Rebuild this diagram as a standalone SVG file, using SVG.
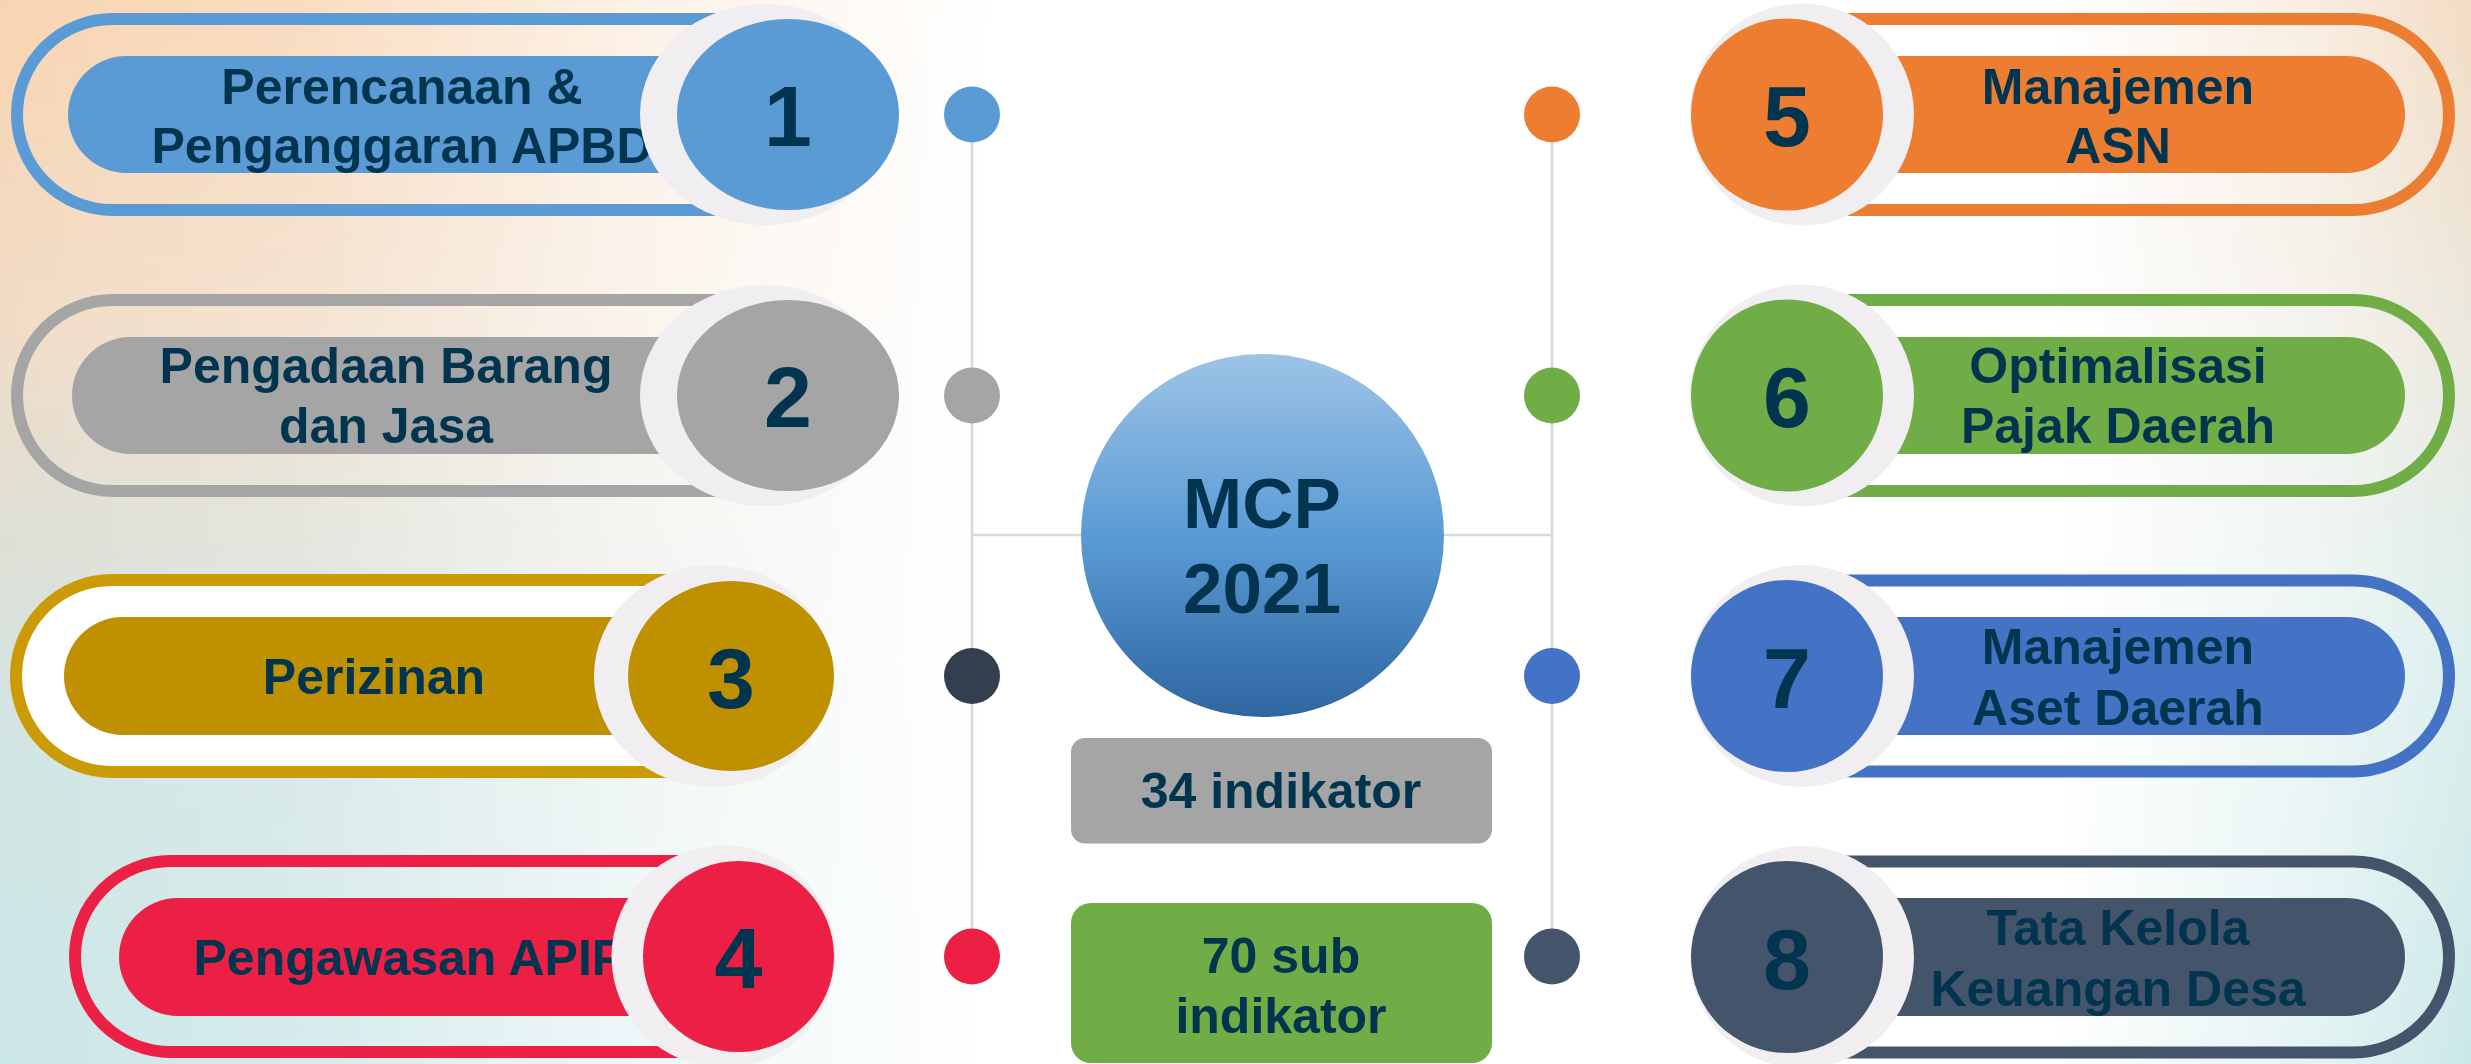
<svg xmlns="http://www.w3.org/2000/svg" width="2471" height="1064" viewBox="0 0 2471 1064">
  <defs>
    <style>
      .lbl { font-family: "Liberation Sans", Arial, sans-serif; font-weight: bold; font-size: 50px; fill: #00344F; text-anchor: middle; }
      .num { font-family: "Liberation Sans", Arial, sans-serif; font-weight: bold; font-size: 86px; fill: #00344F; text-anchor: middle; }
      .hub { font-family: "Liberation Sans", Arial, sans-serif; font-weight: bold; font-size: 71px; fill: #00344F; text-anchor: middle; }
      .ring { fill: #F0EEF0; }
      .band { fill: none; stroke-width: 12; }
      .wire { stroke: #D9D9D9; stroke-width: 2.5; fill: none; }
    </style>
    <linearGradient id="leftTint" x1="0" y1="0" x2="0" y2="1">
      <stop offset="0" stop-color="#F9D4B1"/>
      <stop offset="0.3" stop-color="#F1DCC6"/>
      <stop offset="0.5" stop-color="#DEDFD5"/>
      <stop offset="0.72" stop-color="#D0E5E3"/>
      <stop offset="1" stop-color="#CBE6E7"/>
    </linearGradient>
    <linearGradient id="rightTint" x1="0" y1="0" x2="0" y2="1">
      <stop offset="0" stop-color="#F3DCC4"/>
      <stop offset="0.35" stop-color="#EAE9E0"/>
      <stop offset="0.6" stop-color="#DCEFEC"/>
      <stop offset="1" stop-color="#CBE8E9"/>
    </linearGradient>
    <linearGradient id="fadeFromLeft" x1="0" y1="0" x2="1" y2="0">
      <stop offset="0" stop-color="#fff" stop-opacity="1"/>
      <stop offset="0.3" stop-color="#fff" stop-opacity="0.8"/>
      <stop offset="0.65" stop-color="#fff" stop-opacity="0.3"/>
      <stop offset="1" stop-color="#fff" stop-opacity="0"/>
    </linearGradient>
    <linearGradient id="fadeFromRight" x1="1" y1="0" x2="0" y2="0">
      <stop offset="0" stop-color="#fff" stop-opacity="1"/>
      <stop offset="0.35" stop-color="#fff" stop-opacity="0.55"/>
      <stop offset="1" stop-color="#fff" stop-opacity="0"/>
    </linearGradient>
    <mask id="leftMask" maskUnits="userSpaceOnUse" x="0" y="0" width="1000" height="1064">
      <rect x="0" y="0" width="1000" height="1064" fill="url(#fadeFromLeft)"/>
    </mask>
    <mask id="rightMask" maskUnits="userSpaceOnUse" x="2050" y="0" width="421" height="1064">
      <rect x="2050" y="0" width="421" height="1064" fill="url(#fadeFromRight)"/>
    </mask>
    <linearGradient id="hubFill" x1="0" y1="0" x2="0" y2="1">
      <stop offset="0" stop-color="#9DC3E6"/>
      <stop offset="0.5" stop-color="#5B9BD5"/>
      <stop offset="1" stop-color="#2E66A0"/>
    </linearGradient>
  </defs>

  <!-- backdrop -->
  <g id="background">
    <rect x="0" y="0" width="2471" height="1064" fill="#FFFFFF"/>
    <rect x="0" y="0" width="1000" height="1064" fill="url(#leftTint)" mask="url(#leftMask)"/>
    <rect x="2050" y="0" width="421" height="1064" fill="url(#rightTint)" mask="url(#rightMask)"/>
  </g>

  <!-- timeline rails, hub spokes and markers -->
  <g id="connectors">
    <line class="wire" x1="972" y1="114" x2="972" y2="957"/>
    <line class="wire" x1="1552" y1="114" x2="1552" y2="957"/>
    <line class="wire" x1="972" y1="535" x2="1085" y2="535"/>
    <line class="wire" x1="1440" y1="535" x2="1552" y2="535"/>
    <circle cx="972" cy="114.5" r="28" fill="#5B9BD5"/>
    <circle cx="972" cy="395.5" r="28" fill="#A5A5A5"/>
    <circle cx="972" cy="676" r="28" fill="#333F50"/>
    <circle cx="972" cy="956.5" r="28" fill="#EC1F44"/>
    <circle cx="1552" cy="114.5" r="28" fill="#ED7D31"/>
    <circle cx="1552" cy="395.5" r="28" fill="#70AD47"/>
    <circle cx="1552" cy="676" r="28" fill="#4472C4"/>
    <circle cx="1552" cy="956.5" r="28" fill="#44546A"/>
  </g>

  <!-- central hub -->
  <g id="hub">
    <circle cx="1262.5" cy="535.5" r="181.5" fill="url(#hubFill)"/>
    <text class="hub" x="1262" y="528">MCP</text>
    <text class="hub" x="1262" y="613">2021</text>
  </g>

  <g id="indicator-count">
    <rect x="1071" y="738" width="421" height="105.5" rx="14" fill="#A5A5A5"/>
    <text class="lbl" x="1281" y="808">34 indikator</text>
  </g>

  <g id="sub-indicator-count">
    <rect x="1071" y="903" width="421" height="160" rx="20" fill="#70AD47"/>
    <text class="lbl" x="1281" y="973">70 sub</text>
    <text class="lbl" x="1281" y="1033">indikator</text>
  </g>

  <!-- left column -->
  <g id="item-1">
    <path class="band" stroke="#5B9BD5" d="M760,19 H112.5 A95.5,95.5 0 0 0 112.5,210 H760"/>
    <rect x="68" y="56" width="700" height="117" rx="58.5" fill="#5B9BD5"/>
    <text class="lbl" x="402" y="104">Perencanaan &amp;</text>
    <text class="lbl" x="402" y="163">Penganggaran APBD</text>
    <ellipse class="ring" cx="765" cy="114.5" rx="125" ry="110.5"/>
    <ellipse cx="788" cy="114.5" rx="111" ry="95.5" fill="#5B9BD5"/>
    <text class="num" x="788" y="146">1</text>
  </g>

  <g id="item-2">
    <path class="band" stroke="#A5A5A5" d="M760,300 H112.5 A95.5,95.5 0 0 0 112.5,491 H760"/>
    <rect x="72" y="337" width="700" height="117" rx="58.5" fill="#A5A5A5"/>
    <text class="lbl" x="386" y="383">Pengadaan Barang</text>
    <text class="lbl" x="386" y="443">dan Jasa</text>
    <ellipse class="ring" cx="765" cy="395.5" rx="125" ry="110.5"/>
    <ellipse cx="788" cy="395.5" rx="111" ry="95.5" fill="#A5A5A5"/>
    <text class="num" x="788" y="427">2</text>
  </g>

  <g id="item-3">
    <path d="M720,580 H112 A96,96 0 0 0 112,772 H720 Z" fill="#FFFFFF"/>
    <path class="band" stroke="#CB9B05" stroke-width="11" d="M720,580 H112 A96,96 0 0 0 112,772 H720"/>
    <rect x="64" y="617" width="650" height="118" rx="59" fill="#BF9000"/>
    <text class="lbl" x="374" y="694">Perizinan</text>
    <ellipse class="ring" cx="713" cy="676" rx="119" ry="111"/>
    <ellipse cx="731" cy="676" rx="103" ry="95" fill="#BF9000"/>
    <text class="num" x="731" y="708">3</text>
  </g>

  <g id="item-4">
    <path class="band" stroke="#EC1F44" d="M700,861 H170.5 A95.5,95.5 0 0 0 170.5,1052 H700"/>
    <rect x="119" y="898" width="580" height="118" rx="59" fill="#EC1F44"/>
    <text class="lbl" x="193.5" y="974.5" text-anchor="start" style="text-anchor:start">Pengawasan APIP</text>
    <ellipse class="ring" cx="723.5" cy="956.5" rx="112" ry="111"/>
    <ellipse cx="738.5" cy="956.5" rx="95.5" ry="95.5" fill="#EC1F44"/>
    <text class="num" x="738.5" y="988">4</text>
  </g>

  <!-- right column -->
  <g id="item-5">
    <path class="band" stroke="#ED7D31" d="M1800,19 H2353.5 A95.5,95.5 0 0 1 2353.5,210 H1800"/>
    <rect x="1820" y="56" width="585" height="117" rx="58.5" fill="#ED7D31"/>
    <text class="lbl" x="2118" y="104">Manajemen</text>
    <text class="lbl" x="2118" y="163">ASN</text>
    <ellipse class="ring" cx="1802" cy="114.5" rx="112" ry="111"/>
    <circle cx="1787" cy="114.5" r="96" fill="#ED7D31"/>
    <text class="num" x="1787" y="146">5</text>
  </g>

  <g id="item-6">
    <path class="band" stroke="#70AD47" d="M1800,300 H2353.5 A95.5,95.5 0 0 1 2353.5,491 H1800"/>
    <rect x="1820" y="337" width="585" height="117" rx="58.5" fill="#70AD47"/>
    <text class="lbl" x="2118" y="383">Optimalisasi</text>
    <text class="lbl" x="2118" y="443">Pajak Daerah</text>
    <ellipse class="ring" cx="1802" cy="395.5" rx="112" ry="111"/>
    <circle cx="1787" cy="395.5" r="96" fill="#70AD47"/>
    <text class="num" x="1787" y="427">6</text>
  </g>

  <g id="item-7">
    <path class="band" stroke="#4472C4" d="M1800,580.5 H2353.5 A95.5,95.5 0 0 1 2353.5,771.5 H1800"/>
    <rect x="1820" y="617" width="585" height="118" rx="59" fill="#4472C4"/>
    <text class="lbl" x="2118" y="664">Manajemen</text>
    <text class="lbl" x="2118" y="725">Aset Daerah</text>
    <ellipse class="ring" cx="1802" cy="676" rx="112" ry="111"/>
    <circle cx="1787" cy="676" r="96" fill="#4472C4"/>
    <text class="num" x="1787" y="708">7</text>
  </g>

  <g id="item-8">
    <path class="band" stroke="#44546A" d="M1800,861.5 H2353.5 A95.5,95.5 0 0 1 2353.5,1052.5 H1800"/>
    <rect x="1820" y="898" width="585" height="118" rx="59" fill="#44546A"/>
    <text class="lbl" x="2118" y="945">Tata Kelola</text>
    <text class="lbl" x="2118" y="1006">Keuangan Desa</text>
    <ellipse class="ring" cx="1802" cy="957" rx="112" ry="111"/>
    <circle cx="1787" cy="957" r="96" fill="#44546A"/>
    <text class="num" x="1787" y="989">8</text>
  </g>
</svg>
